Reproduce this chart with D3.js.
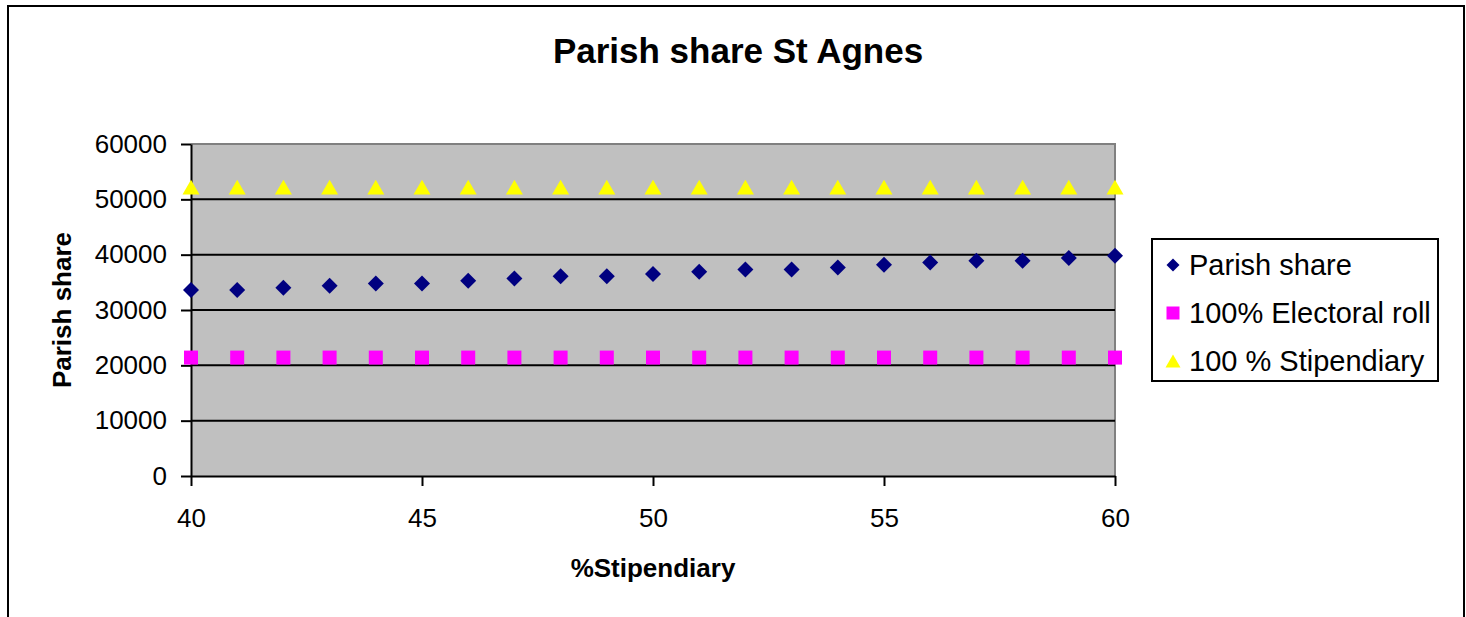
<!DOCTYPE html>
<meta charset="utf-8" />
<title>Parish share St Agnes</title>
<script src="https://d3js.org/d3.v7.min.js"></script>
<style>
    body {
        margin: 0;
        background: #fff;
    }
    text {
        font-family: 'Liberation Sans', Arial, sans-serif;
        fill: #000;
    }
    .tick text {
        font-size: 26px;
    }
    .title {
        font-size: 35px;
        font-weight: bold;
    }
    .axis-title {
        font-size: 26px;
        font-weight: bold;
    }
    .legend text {
        font-size: 29px;
    }
</style>
<div id="chart"></div>
<script>
// % stipendiary (x)
var stipendiary = [40, 41, 42, 43, 44, 45, 46, 47, 48, 49, 50, 51, 52, 53, 54, 55, 56, 57, 58, 59, 60];
// series values
var parishShare = [33600, 33600, 34000, 34400, 34800, 34800, 35300, 35700, 36100, 36100, 36500,
    36900, 37300, 37300, 37700, 38200, 38600, 38900, 38900, 39400, 39800];
var electoralRoll = [21400, 21400, 21400, 21400, 21400, 21400, 21400, 21400, 21400, 21400, 21400,
    21400, 21400, 21400, 21400, 21400, 21400, 21400, 21400, 21400, 21400];
var fullStipendiary = [52200, 52200, 52200, 52200, 52200, 52200, 52200, 52200, 52200, 52200, 52200,
    52200, 52200, 52200, 52200, 52200, 52200, 52200, 52200, 52200, 52200];
var seriesNames = ["Parish share", "100% Electoral roll", "100 % Stipendiary"];
var xTicks = [40, 45, 50, 55, 60];
var yTicks = [0, 10000, 20000, 30000, 40000, 50000, 60000];

var width = 1466,
    height = 617;
var plot = { left: 191, right: 1115, top: 144, bottom: 476 };

var svg = d3.select("#chart").append("svg")
    .attr("width", width)
    .attr("height", height);

// outer chart border (runs off the bottom of the picture)
svg.append("rect")
    .attr("x", 8).attr("y", 6)
    .attr("width", 1456).attr("height", 640)
    .attr("fill", "#fff")
    .attr("stroke", "#000")
    .attr("stroke-width", 2);

var x = d3.scaleLinear().domain([40, 60]).range([plot.left, plot.right]);
var y = d3.scaleLinear().domain([0, 60000]).range([plot.bottom, plot.top]);

// plot area
svg.append("rect")
    .attr("x", plot.left).attr("y", plot.top)
    .attr("width", plot.right - plot.left)
    .attr("height", plot.bottom - plot.top)
    .attr("fill", "#c0c0c0");

svg.append("path")
    .attr("d", "M" + plot.left + "," + plot.top + "H" + plot.right + "V" + plot.bottom)
    .attr("fill", "none")
    .attr("stroke", "#808080")
    .attr("stroke-width", 2);

// gridlines
svg.append("g")
    .selectAll("line")
    .data(yTicks.filter(function(d) { return d > 0 && d < 60000; }))
    .enter().append("line")
    .attr("x1", plot.left).attr("x2", plot.right)
    .attr("y1", function(d) { return y(d); })
    .attr("y2", function(d) { return y(d); })
    .attr("stroke", "#000")
    .attr("stroke-width", 2);

// axes
var yAxis = svg.append("g")
    .attr("transform", "translate(" + plot.left + ",0)")
    .call(d3.axisLeft(y).tickValues(yTicks).tickFormat(d3.format("d"))
        .tickSize(10).tickPadding(14).tickSizeOuter(0));
var xAxis = svg.append("g")
    .attr("transform", "translate(0," + plot.bottom + ")")
    .call(d3.axisBottom(x).tickValues(xTicks).tickSize(10).tickPadding(23).tickSizeOuter(0));
[yAxis, xAxis].forEach(function(a) {
    a.select(".domain").attr("stroke", "#000").attr("stroke-width", 2);
    a.selectAll(".tick line").attr("stroke", "#000").attr("stroke-width", 2);
    a.attr("font-family", null).attr("font-size", null);
});

// marker shapes, centred on the point
function marker(kind, s) {
    var h = s / 2;
    if (kind == "diamond") return "M0," + (-h) + "L" + h + ",0L0," + h + "L" + (-h) + ",0Z";
    if (kind == "square") return "M" + (-h) + "," + (-h) + "h" + s + "v" + s + "h" + (-s) + "Z";
    var th = s * 0.87;
    return "M0," + (-th / 2) + "L" + h + "," + (th / 2) + "L" + (-h) + "," + (th / 2) + "Z";
}

var series = [
    { name: seriesNames[0], values: parishShare, kind: "diamond", size: 16, color: "#000080" },
    { name: seriesNames[1], values: electoralRoll, kind: "square", size: 14, color: "#ff00ff" },
    { name: seriesNames[2], values: fullStipendiary, kind: "triangle", size: 17, color: "#ffff00" }
];

series.forEach(function(s) {
    svg.append("g")
        .selectAll("path")
        .data(s.values)
        .enter().append("path")
        .attr("d", marker(s.kind, s.size))
        .attr("transform", function(d, i) { return "translate(" + x(stipendiary[i]) + "," + y(d) + ")"; })
        .attr("fill", s.color);
});

// titles
svg.append("text")
    .attr("class", "title")
    .attr("x", 738).attr("y", 63)
    .attr("text-anchor", "middle")
    .text("Parish share St Agnes");

svg.append("text")
    .attr("class", "axis-title")
    .attr("x", 653).attr("y", 577)
    .attr("text-anchor", "middle")
    .text("%Stipendiary");

svg.append("text")
    .attr("class", "axis-title")
    .attr("transform", "translate(71,310) rotate(-90)")
    .attr("text-anchor", "middle")
    .text("Parish share");

// legend
var legend = svg.append("g").attr("class", "legend");
legend.append("rect")
    .attr("x", 1152).attr("y", 239)
    .attr("width", 286).attr("height", 142)
    .attr("fill", "#fff")
    .attr("stroke", "#000")
    .attr("stroke-width", 2);

var rows = legend.selectAll(".row")
    .data(series)
    .enter().append("g")
    .attr("class", "row")
    .attr("transform", function(d, i) { return "translate(1173," + (265 + i * 48) + ")"; });
rows.append("path")
    .attr("d", function(d) { return marker(d.kind, d.kind == "triangle" ? 15 : 13); })
    .attr("fill", function(d) { return d.color; });
rows.append("text")
    .attr("x", 16)
    .attr("dy", "0.36em")
    .text(function(d) { return d.name; });
</script>
